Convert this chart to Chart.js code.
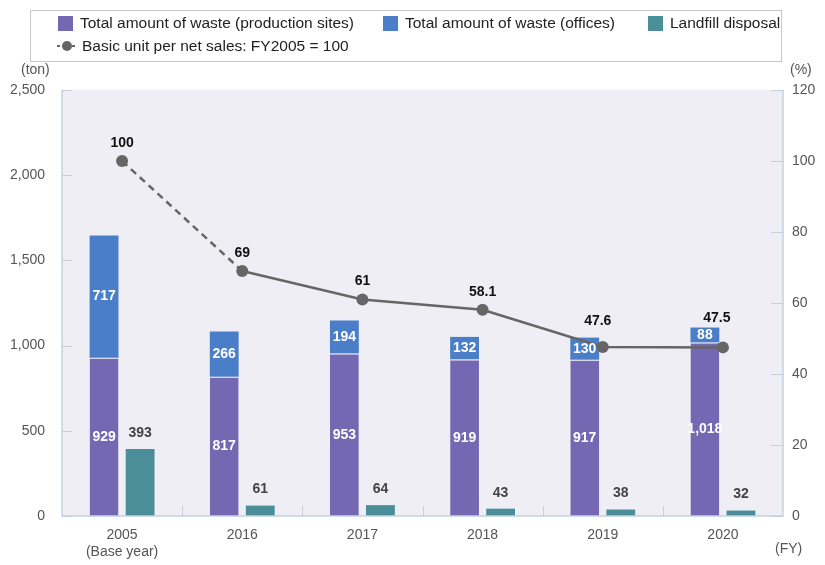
<!DOCTYPE html>
<html><head><meta charset="utf-8">
<script src="https://cdn.jsdelivr.net/npm/chart.js@4.4.1/dist/chart.umd.min.js"></script>
<style>
html,body{margin:0;padding:0;background:#fff;}
#wrap{position:relative;width:825px;height:565px;}
#legend{position:absolute;left:30px;top:10px;width:752px;height:52px;border:1px solid #c9c9c9;box-sizing:border-box;font-family:"Liberation Sans",Arial,sans-serif;font-size:15.5px;color:#222;}
.li{position:absolute;display:flex;align-items:center;white-space:nowrap;}
.sw{width:15px;height:15px;margin-right:7px;}
</style></head><body>
<div id="wrap">
<canvas id="c" width="825" height="565"></canvas>
<div id="legend">
 <div class="li" style="left:27px;top:3px"><span class="sw" style="background:#7468b3"></span>Total amount of waste (production sites)</div>
 <div class="li" style="left:352px;top:3px"><span class="sw" style="background:#4b7ec9"></span>Total amount of waste (offices)</div>
 <div class="li" style="left:617px;top:3px"><span class="sw" style="background:#4b8e9a"></span>Landfill disposal</div>
 <div class="li" style="left:25px;top:26px"><svg width="22" height="14" style="margin-right:4px"><line x1="1" y1="7" x2="21" y2="7" stroke="#666" stroke-width="2" stroke-dasharray="3,2"/><circle cx="11" cy="7" r="5" fill="#666"/></svg>Basic unit per net sales: FY2005 = 100</div>
</div>
</div>
<script>
const categories = [["2005","(Base year)"],"2016","2017","2018","2019","2020"];
const productionSites = [929,817,953,919,917,1018];
const offices = [717,266,194,132,130,88];
const landfill = [393,61,64,43,38,32];
const basicUnit = [100,69,61,58.1,47.6,47.5];
const leftTicks = [0,500,1000,1500,2000,2500];
const rightTicks = [0,20,40,60,80,100,120];
// label nudges for the line values (dx, dy in px)
const lineLabelNudge = [[0,-18],[0,-18],[0,-18],[0,-18],[-5,-26],[-6,-29]];

const FONT = '"Liberation Sans", Arial, sans-serif';
const AX = '#c3d2e4';

const decor = {
  id:'decor',
  beforeDraw(chart){
    const {ctx, chartArea:a} = chart;
    ctx.save();
    ctx.fillStyle = '#eeeef4';
    ctx.fillRect(a.left, a.top, a.right-a.left, a.bottom-a.top);
    ctx.restore();
  },
  afterDatasetsDraw(chart){
    const {ctx, chartArea:a, scales} = chart;
    ctx.save();
    ctx.strokeStyle = AX; ctx.lineWidth = 1.5;
    ctx.beginPath();
    ctx.moveTo(a.left, a.top); ctx.lineTo(a.left, a.bottom); ctx.lineTo(a.right, a.bottom); ctx.lineTo(a.right, a.top);
    ctx.stroke();
    ctx.strokeStyle = '#c8cfdc'; ctx.lineWidth = 1;
    ctx.beginPath();
    leftTicks.forEach(v=>{const y=Math.round(scales.y.getPixelForValue(v))+0.5; ctx.moveTo(a.left,y); ctx.lineTo(a.left+10,y);});
    rightTicks.forEach(v=>{const y=Math.round(scales.y1.getPixelForValue(v))+0.5; ctx.moveTo(a.right-12,y); ctx.lineTo(a.right,y);});
    const xs = scales.x;
    for(let i=1;i<categories.length;i++){
      const x = Math.round((xs.getPixelForValue(i-1)+xs.getPixelForValue(i))/2)+0.5;
      ctx.moveTo(x,a.bottom-10); ctx.lineTo(x,a.bottom);
    }
    ctx.stroke();
    ctx.textAlign='center'; ctx.textBaseline='middle';
    const m0 = chart.getDatasetMeta(0), m1 = chart.getDatasetMeta(1), m2 = chart.getDatasetMeta(2), m3 = chart.getDatasetMeta(3);
    ctx.font = 'bold 14px '+FONT; ctx.fillStyle='#fff';
    m0.data.forEach((b,i)=>{ctx.fillText(productionSites[i].toLocaleString('en-US'), b.x, (b.y+b.base)/2);});
    m1.data.forEach((b,i)=>{ctx.fillText(offices[i].toLocaleString('en-US'), b.x, (b.y+b.base)/2);});
    ctx.fillStyle='#444';
    m2.data.forEach((b,i)=>{ctx.fillText(String(landfill[i]), b.x, b.y-16);});
    ctx.fillStyle='#111';
    m3.data.forEach((p,i)=>{const n=lineLabelNudge[i]; ctx.fillText(String(basicUnit[i]), p.x+n[0], p.y+n[1]);});
    ctx.font = '14px '+FONT; ctx.fillStyle='#555';
    ctx.textAlign='left'; ctx.fillText('(ton)', 21, 70);
    ctx.fillText('(%)', 790, 70);
    ctx.fillText('(FY)', 775, 549);
    ctx.restore();
  }
};

new Chart(document.getElementById('c'), {
  type:'bar',
  data:{
    labels: categories,
    datasets:[
      {label:'Total amount of waste (production sites)', data:productionSites, backgroundColor:'#7468b3', stack:'a', yAxisID:'y', borderColor:'#fff', borderWidth:{top:1}, borderSkipped:'bottom', order:2},
      {label:'Total amount of waste (offices)', data:offices, backgroundColor:'#4b7ec9', stack:'a', yAxisID:'y', order:2, borderWidth:0},
      {label:'Landfill disposal', data:landfill, backgroundColor:'#4b8e9a', stack:'b', yAxisID:'y', order:2, borderWidth:0},
      {type:'line', label:'Basic unit per net sales: FY2005 = 100', data:basicUnit, yAxisID:'y1', borderColor:'#666', backgroundColor:'#666', borderWidth:2.5, pointRadius:6, pointHoverRadius:6, pointBackgroundColor:'#666', pointBorderWidth:0, order:1,
       segment:{borderDash: ctx => ctx.p0DataIndex===0 ? [7,5] : undefined}}
    ]
  },
  options:{
    responsive:false, animation:false, events:[],
    layout:{padding:{top:90,left:0,right:0,bottom:0}},
    categoryPercentage:0.6, barPercentage:0.8,
    plugins:{legend:{display:false}, tooltip:{enabled:false}},
    scales:{
      x:{stacked:true, grid:{display:false}, border:{display:false},
         ticks:{font:{family:FONT,size:14}, color:'#555', padding:3, maxRotation:0},
         afterFit(s){s.height=49;}},
      y:{stacked:true, min:0, max:2500, position:'left', grid:{display:false}, border:{display:false},
         ticks:{stepSize:500, font:{family:FONT,size:14}, color:'#555', padding:9, callback:v=>v.toLocaleString('en-US')},
         afterFit(s){s.width=62;}},
      y1:{min:0, max:120, position:'right', grid:{display:false}, border:{display:false},
         ticks:{stepSize:20, font:{family:FONT,size:14}, color:'#555', padding:1},
         afterFit(s){s.width=42;}}
    }
  },
  plugins:[decor]
});
</script>
</body></html>
